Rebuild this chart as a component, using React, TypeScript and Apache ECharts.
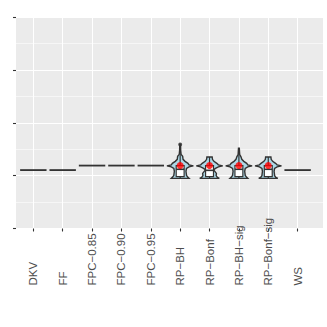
import React, { useEffect, useRef } from "react";
import * as echarts from "echarts";

// ---- data ----
const categories = ["DKV", "FF", "FPC\u22120.85", "FPC\u22120.90", "FPC\u22120.95", "RP\u2212BH", "RP\u2212Bonf", "RP\u2212BH\u2212sig", "RP\u2212Bonf\u2212sig", "WS"];
// constant-valued methods (degenerate violins)
const constantCats = ["DKV", "FF", "FPC\u22120.85", "FPC\u22120.90", "FPC\u22120.95", "WS"];
const constantValues = [1.105, 1.105, 1.19, 1.19, 1.19, 1.105];

// violin density profiles (value, relative width)
const violinCats = ["RP\u2212BH", "RP\u2212Bonf", "RP\u2212BH\u2212sig", "RP\u2212Bonf\u2212sig"];
const rpBHVals = [0.948, 0.967, 1.005, 1.081, 1.137, 1.166, 1.185, 1.204, 1.232, 1.27, 1.308, 1.365, 1.403, 1.479, 1.592];
const rpBHDens = [0.67, 0.59, 0.48, 0.44, 0.48, 0.67, 1.0, 0.67, 0.59, 0.37, 0.22, 0.19, 0.07, 0.04, 0.03];
const rpBonfVals = [0.948, 0.967, 1.0, 1.043, 1.081, 1.11, 1.137, 1.166, 1.185, 1.204, 1.232, 1.27, 1.308, 1.352];
const rpBonfDens = [0.74, 0.6, 0.5, 0.52, 0.4, 0.3, 0.45, 0.67, 1.0, 0.67, 0.55, 0.33, 0.22, 0.2];
const rpBHSigVals = [0.948, 0.967, 1.005, 1.081, 1.137, 1.166, 1.185, 1.204, 1.232, 1.27, 1.308, 1.36, 1.4, 1.517];
const rpBHSigDens = [0.67, 0.59, 0.48, 0.44, 0.48, 0.67, 1.0, 0.67, 0.59, 0.37, 0.22, 0.15, 0.06, 0.03];
const rpBonfSigVals = [0.948, 0.967, 1.0, 1.043, 1.081, 1.137, 1.166, 1.185, 1.204, 1.232, 1.27, 1.308, 1.352];
const rpBonfSigDens = [0.72, 0.58, 0.48, 0.46, 0.44, 0.48, 0.67, 1.0, 0.67, 0.55, 0.33, 0.22, 0.2];
const violinVals = [rpBHVals, rpBonfVals, rpBHSigVals, rpBonfSigVals];
const violinDens = [rpBHDens, rpBonfDens, rpBHSigDens, rpBonfSigDens];

// boxplot stats: min, q1, median, q3, max
const boxMin = [0.948, 0.948, 0.948, 0.948];
const boxQ1 = [0.98, 0.98, 0.98, 0.98];
const boxMedian = [1.12, 1.1, 1.12, 1.12];
const boxQ3 = [1.19, 1.19, 1.19, 1.19];
const boxMax = [1.55, 1.352, 1.517, 1.352];
const outlierCats = ["RP\u2212BH"];
const outlierValues = [1.59];
const meanValues = [1.19, 1.19, 1.19, 1.19];

const yTicks = [0, 1, 2, 3, 4];

// axis categories padded so the panel expands 0.6 unit each side
const axisCats = ["", ...categories, ""];
const idxOf = (c: string) => axisCats.indexOf(c);

export default function App() {
  const ref = useRef<HTMLDivElement>(null);
  useEffect(() => {
    if (!ref.current) return;
    const chart = echarts.init(ref.current, null, { renderer: "svg" });
    const panelL = 16, panelR = 323, panelT = 17, panelB = 228.5;
    const unit = (panelR - panelL) / 10.2;
    const gridLeft = panelL - 0.4 * unit;
    const gridWidth = 11 * unit;
    const dark = "#333333";
    const showInner = (i: number) => i >= 1 && i <= categories.length;

    const constData = constantCats.map((c, i) => [idxOf(c), constantValues[i]]);
    const violinData = violinCats.map((c, i) => [idxOf(c), i, boxMin[i], boxQ1[i], boxMedian[i], boxQ3[i], boxMax[i]]);

    chart.setOption({
      animation: false,
      graphic: [
        {
          type: "rect",
          z: -10,
          silent: true,
          shape: { x: panelL, y: panelT, width: panelR - panelL, height: panelB - panelT },
          style: { fill: "#EBEBEB" },
        },
      ],
      grid: { left: gridLeft, width: gridWidth, top: panelT, height: panelB - panelT, containLabel: false },
      xAxis: {
        type: "category",
        data: axisCats,
        boundaryGap: false,
        axisLine: { show: false },
        axisTick: { show: true, interval: (i: number) => showInner(i), length: 3, lineStyle: { color: dark, width: 1.1 } },
        axisLabel: {
          show: true,
          interval: (i: number) => showInner(i),
          rotate: 90,
          align: "left",
          verticalAlign: "middle",
          margin: 57,
          fontSize: 11.5,
          color: "#4D4D4D",
          fontFamily: "'Liberation Sans Narrow', 'Arial Narrow', sans-serif",
          padding: [5, 0, 0, 0],
        },
        splitLine: { show: true, lineStyle: { color: "#FFFFFF", width: 1.1 } },
      },
      yAxis: {
        type: "value",
        min: yTicks[0],
        max: yTicks[yTicks.length - 1],
        interval: 1,
        offset: -(panelL - gridLeft),
        axisLine: { show: false },
        axisLabel: { show: false },
        axisTick: { show: true, length: 3, lineStyle: { color: dark, width: 1.1 } },
        splitLine: { show: true, lineStyle: { color: "#FFFFFF", width: 1.1 } },
        minorTick: { show: false, splitNumber: 2 },
        minorSplitLine: { show: true, lineStyle: { color: "#FFFFFF", width: 0.55 } },
      },
      series: [
        {
          type: "custom",
          data: constData,
          encode: { x: 0, y: 1 },
          renderItem: (params: any, api: any) => {
            const x = api.value(0);
            const v = api.value(1);
            const u = api.size([1, 0])[0];
            const c = api.coord([x, v]);
            const hw = 0.45 * u;
            return {
              type: "line",
              shape: { x1: c[0] - hw, y1: c[1], x2: c[0] + hw, y2: c[1] },
              style: { stroke: dark, lineWidth: 1.8 },
            };
          },
          z: 2,
        },
        {
          type: "custom",
          data: violinData,
          encode: { x: 0, y: 2 },
          renderItem: (params: any, api: any) => {
            const x = api.value(0);
            const k = api.value(1);
            const u = api.size([1, 0])[0];
            const hw = 0.45 * u;
            const vals = violinVals[k];
            const dens = violinDens[k];
            const left: number[][] = [];
            const right: number[][] = [];
            for (let j = 0; j < vals.length; j++) {
              const c = api.coord([x, vals[j]]);
              left.push([c[0] - dens[j] * hw, c[1]]);
              right.push([c[0] + dens[j] * hw, c[1]]);
            }
            const pts = left.concat(right.reverse());
            const cMin = api.coord([x, api.value(2)]);
            const cQ1 = api.coord([x, api.value(3)]);
            const cMed = api.coord([x, api.value(4)]);
            const cQ3 = api.coord([x, api.value(5)]);
            const cMax = api.coord([x, api.value(6)]);
            const bw = 0.135 * u;
            return {
              type: "group",
              children: [
                { type: "polygon", shape: { points: pts }, style: { fill: "#ADD8E6", stroke: dark, lineWidth: 1.4 } },
                { type: "line", shape: { x1: cMin[0], y1: cMin[1], x2: cQ1[0], y2: cQ1[1] }, style: { stroke: dark, lineWidth: 1.2 } },
                { type: "line", shape: { x1: cQ3[0], y1: cQ3[1], x2: cMax[0], y2: cMax[1] }, style: { stroke: dark, lineWidth: 1.2 } },
                {
                  type: "rect",
                  shape: { x: cQ1[0] - bw, y: cQ3[1], width: 2 * bw, height: cQ1[1] - cQ3[1] },
                  style: { fill: "#FFFFFF", stroke: dark, lineWidth: 1.2 },
                },
                { type: "line", shape: { x1: cMed[0] - bw, y1: cMed[1], x2: cMed[0] + bw, y2: cMed[1] }, style: { stroke: dark, lineWidth: 1.6 } },
              ],
            };
          },
          z: 3,
        },
        {
          type: "scatter",
          data: outlierCats.map((c, i) => [idxOf(c), outlierValues[i]]),
          symbolSize: 4,
          itemStyle: { color: dark },
          z: 4,
        },
        {
          type: "scatter",
          data: violinCats.map((c, i) => [idxOf(c), meanValues[i]]),
          symbolSize: 7,
          itemStyle: { color: "#FF0000" },
          z: 5,
        },
      ],
    });
    return () => chart.dispose();
  }, []);
  return <div ref={ref} style={{ position: "fixed", left: 0, top: 0, width: 327, height: 327, background: "#FFFFFF" }} />;
}
